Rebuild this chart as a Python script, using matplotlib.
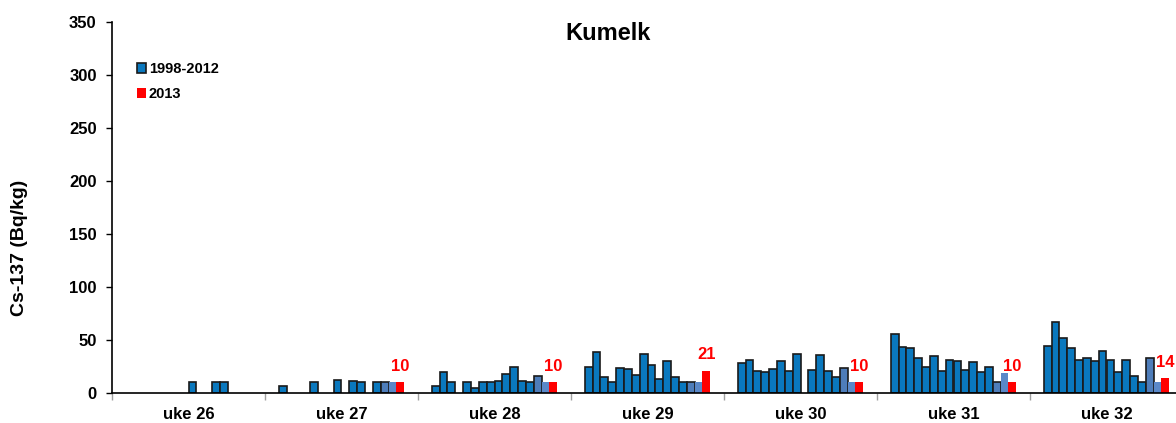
import numpy as np
import matplotlib.pyplot as plt
from matplotlib.patches import Patch

plt.rcParams['font.family'] = ['Liberation Sans', 'DejaVu Sans']
plt.rcParams['font.weight'] = 'bold'

# Cs-137 i kumelk per uke, ett tall per år 1998-2013 (None = ingen måling)
uker = ['uke 26', 'uke 27', 'uke 28', 'uke 29', 'uke 30', 'uke 31', 'uke 32']
aar = list(range(1998, 2014))

uke26 = [None, None, None, None, None, None, None, None, 10, None, None, 10, 10, None, None, None]
uke27 = [7, None, None, None, 10, None, None, 12, None, 11, 10, None, 10, 10, 10, 10]
uke28 = [7, 20, 10, None, 10, 5, 10, 10, 11, 18, 25, 11, 10, 16, 10, 10]
uke29 = [25, 39, 15, 10, 24, 23, 17, 37, 26, 13, 30, 15, 10, 10, 10, 21]
uke30 = [28, 31, 21, 20, 23, 30, 21, 37, None, 22, 36, 21, 15, 24, 10, 10]
uke31 = [56, 43, 42, 33, 25, 35, 21, 31, 30, 22, 29, 20, 25, 10, 19, 10]
uke32 = [44, 67, 52, 42, 31, 33, 30, 40, 31, 20, 31, 16, 10, 33, 10, 14]
data = [uke26, uke27, uke28, uke29, uke30, uke31, uke32]

blaa = '#0A78BE'
lysblaa_kant = '#4E7DBA'
lysblaa = '#5A88C8'
roed = '#FF0000'

fig = plt.figure(figsize=(11.76, 4.23), dpi=100)
ax = fig.add_axes([112 / 1176, 30 / 423, 1071 / 1176, 371 / 423])

n = len(aar)
w = 7.85 / 153
for k, verdier in enumerate(data):
    for i, v in enumerate(verdier):
        if v is None:
            continue
        x = k + (i - (n - 1) / 2) * w
        if i == n - 1:
            ax.bar(x, v, width=w, color=roed, linewidth=0)
            ax.annotate(str(v), (x, v), xytext=(0, 6), textcoords='offset points',
                        ha='center', va='bottom', color=roed, fontsize=12, fontweight='bold')
        elif i == n - 2:
            ax.bar(x, v, width=w, color=lysblaa, linewidth=0)
        elif i == n - 3:
            ax.bar(x, v, width=w, color=lysblaa_kant, edgecolor='#1a1a1a', linewidth=1.2)
        else:
            ax.bar(x, v, width=w, color=blaa, edgecolor='#1a1a1a', linewidth=1.2)

ax.set_xlim(-0.5, len(uker) - 0.5)
ax.set_ylim(0, 350)
ax.set_yticks(range(0, 351, 50))
ax.tick_params(axis='y', direction='out', length=4, width=1, labelsize=12, pad=7)

ax.set_xticks(np.arange(len(uker) + 1) - 0.5)
ax.set_xticklabels([])
ax.tick_params(axis='x', which='major', direction='out', length=5, color='#a0a0a0', width=1)
ax.set_xticks(np.arange(len(uker)), minor=True)
ax.set_xticklabels(uker, minor=True, fontsize=12, fontweight='bold')
ax.tick_params(axis='x', which='minor', length=0, pad=10)

for s in ['top', 'right']:
    ax.spines[s].set_visible(False)
ax.spines['left'].set_linewidth(1.2)
ax.spines['bottom'].set_linewidth(1.2)

ax.set_ylabel('Cs-137 (Bq/kg)', fontsize=14, fontweight='bold')
ax.yaxis.set_label_coords(-0.078, 0.39)
fig.text(608 / 1176, 1 - 33 / 423, 'Kumelk', ha='center', va='center', fontsize=17, fontweight='bold')

handles = [Patch(facecolor=blaa, edgecolor='#1a1a1a', linewidth=1.2, label='1998-2012'),
           Patch(facecolor=roed, linewidth=0, label='2013')]
ax.legend(handles=handles, loc='upper left', bbox_to_anchor=(124 / 1176, 1 - 49 / 423),
          bbox_transform=fig.transFigure, frameon=False, handlelength=0.6, handleheight=0.6,
          handletextpad=0.2, labelspacing=0.75, prop={'size': 10.5, 'weight': 'bold'})

fig.savefig('out.png', dpi=100)
